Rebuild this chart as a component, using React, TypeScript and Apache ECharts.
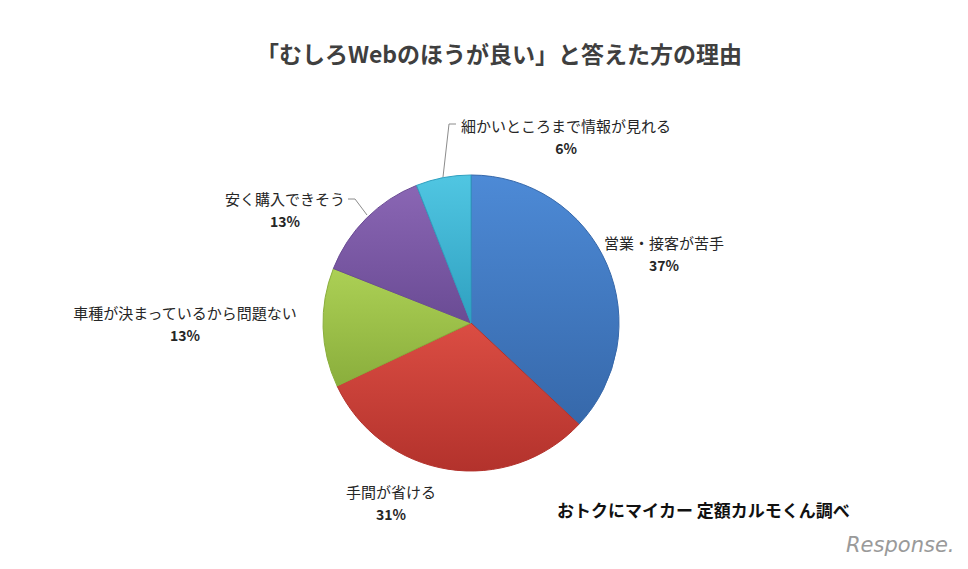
import React, { useEffect, useRef } from "react";
import * as echarts from "echarts";

const categories = [
  "営業・接客が苦手",
  "手間が省ける",
  "車種が決まっているから問題ない",
  "安く購入できそう",
  "細かいところまで情報が見れる",
];
const values = [37, 31, 13, 13, 6];
const titleText = "「むしろWebのほうが良い」と答えた方の理由";
const sourceText = "おトクにマイカー 定額カルモくん調べ";

const colorsTop = ["#4d8ad6", "#db4d43", "#acd055", "#8a66b4", "#50c6e2"];
const colorsBottom = ["#3668aa", "#b3322c", "#8aae3c", "#6a4b94", "#2fa0c0"];

// label anchor layout (label centers) and leader lines
const labelPos: [number, number][] = [
  [664, 253],
  [391, 502],
  [185, 323],
  [285, 209],
  [566, 136],
];
const leader: ([number, number][] | null)[] = [
  null,
  null,
  null,
  [[348, 199], [355, 199], [367, 215]],
  [[456, 124], [449, 124], [443, 177]],
];

export default function App() {
  const ref = useRef<HTMLDivElement>(null);
  useEffect(() => {
    document.body.style.margin = "0";
    const chart = echarts.init(ref.current!, null, { renderer: "svg" });
    const font = '"Noto Sans CJK JP", "Noto Sans", sans-serif';
    chart.setOption({
      animation: false,
      backgroundColor: "#ffffff",
      title: {
        text: titleText,
        left: 494,
        top: 36,
        textAlign: "center",
        textStyle: {
          fontFamily: font,
          fontSize: 23,
          fontWeight: "bold",
          color: "#3f3f3f",
        },
      },
      graphic: [
        {
          type: "text",
          left: 557,
          top: 501,
          style: {
            text: sourceText,
            font: `bold 17px ${font}`,
            fill: "#111111",
          },
        },
        {
          type: "text",
          left: 846,
          top: 534,
          style: {
            text: "Response.",
            font: `italic 21px "DejaVu Sans", sans-serif`,
            fill: "#9a9a9a",
          },
        },
      ],
      series: [
        {
          type: "pie",
          center: [471, 323],
          radius: 148,
          startAngle: 90,
          clockwise: true,
          data: categories.map((name, i) => ({
            name,
            value: values[i],
            itemStyle: {
              color: new echarts.graphic.LinearGradient(0, 0, 0, 1, [
                { offset: 0, color: colorsTop[i] },
                { offset: 1, color: colorsBottom[i] },
              ]),
              borderColor: colorsBottom[i],
              borderWidth: 1,
            },
            labelLine: { show: !!leader[i] },
          })),
          label: {
            show: true,
            position: "outside",
            formatter: "{n|{b}}\n{p|{c}%}",
            align: "center",
            rich: {
              n: {
                fontFamily: font,
                fontSize: 15,
                color: "#262626",
                lineHeight: 24,
                align: "center",
              },
              p: {
                fontFamily: font,
                fontSize: 14,
                fontWeight: "bold",
                color: "#262626",
                lineHeight: 22,
                align: "center",
              },
            },
          },
          labelLine: {
            show: true,
            lineStyle: { color: "#8c8c8c", width: 1 },
          },
          labelLayout: (params: any) => {
            const i = params.dataIndex;
            const res: any = {
              x: labelPos[i][0],
              y: labelPos[i][1],
              align: "center",
              verticalAlign: "middle",
            };
            if (leader[i]) res.labelLinePoints = leader[i];
            return res;
          },
        },
      ],
    });
    return () => chart.dispose();
  }, []);
  return (
    <div
      ref={ref}
      style={{ position: "fixed", left: 0, top: 0, width: 968, height: 569 }}
    />
  );
}
